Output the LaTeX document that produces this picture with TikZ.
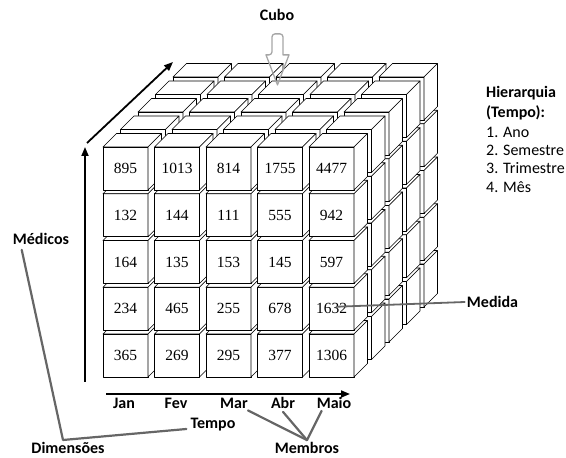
\documentclass[tikz,border=0pt]{standalone}
\usepackage{fontspec}
\setmainfont{Liberation Serif}
\newfontfamily\calib{Carlito}
\usetikzlibrary{arrows.meta}
\begin{document}
\begin{tikzpicture}[x=1pt,y=1pt,
  face/.style={draw=black,fill=white,line width=0.7pt,line join=round},
  cellnum/.style={font=\fontsize{15.5}{17}\selectfont,inner sep=0pt},
  lbl/.style={font=\calib\bfseries\fontsize{16}{19}\selectfont,inner sep=1pt},
  hier/.style={font=\calib\fontsize{16}{19}\selectfont,inner sep=0pt,anchor=west},
  hierhead/.style={hier,font=\calib\bfseries\fontsize{16}{19}\selectfont},
  axis/.style={line width=1.8pt,-{Triangle[length=9pt,width=7pt]}},
  pointer/.style={draw=black!60,line width=2.2pt,line cap=round,line join=round}]
\useasboundingbox (0,0) rectangle (566,458);

% small cubes, painted from the back layer forward, left to right, bottom to top
\foreach \k in {4,3,2,1,0}{
  \foreach \i in {0,...,4}{
    \foreach \j in {0,...,4}{
      \pgfmathsetmacro\ox{103+51.5*\i+17.5*\k}
      \pgfmathsetmacro\oy{81+46.75*\j+17.5*\k}
      \draw[face] (\ox,\oy) rectangle ++(45,43);
      \draw[face] (\ox,\oy+43) -- ++(13.5,13.5) -- ++(45,0) -- ++(-13.5,-13.5) -- cycle;
      \draw[face] (\ox+45,\oy) -- ++(13.5,13.5) -- ++(0,43) -- ++(-13.5,-13.5) -- cycle;
    }}}

% measures on the front layer (rows listed bottom to top)
\foreach \row [count=\j from 0] in {{365,269,295,377,1306},{234,465,255,678,1632},{164,135,153,145,597},{132,144,111,555,942},{895,1013,814,1755,4477}}{
  \foreach \v [count=\i from 0] in \row {
    \node[cellnum] (n\i\j) at (125.5+51.5*\i,102.5+46.75*\j) {\v};
  }}

% dimension axes
\coordinate (vb) at (85,76);  \coordinate (vt) at (85,311);
\coordinate (db) at (87,315); \coordinate (dt) at (173,396);
\coordinate (hb) at (106,64); \coordinate (ht) at (350,64);
\draw[axis] (vb) -- (vt);
\draw[axis] (db) -- (dt);
\draw[axis] (hb) -- (ht);

% members of the time dimension
\node[lbl] (jan)  at (124,55) {Jan};
\node[lbl] (fev)  at (176,55) {Fev};
\node[lbl] (mar)  at (234,55) {Mar};
\node[lbl] (abr)  at (283,55) {Abr};
\node[lbl] (maio) at (334,55) {Maio};

% labels
\node[lbl] (cubo)      at (277,443)   {Cubo};
\node[lbl] (medicos)   at (41,219)    {Médicos};
\node[lbl] (tempo)     at (213,33)    {Tempo};
\node[lbl] (dimensoes) at (68,10.5)   {Dimensões};
\node[lbl] (membros)   at (307,10)    {Membros};
\node[lbl] (medida)    at (492.5,156) {Medida};

% hierarchy of the time dimension
\node[hierhead] (h1) at (486,365) {Hierarquia};
\node[hierhead] (h2) at (486,345) {(Tempo):};
\node[hier] (h3) at (486,326) {1. Ano};
\node[hier] (h4) at (486,308) {2. Semestre};
\node[hier] (h5) at (486,290) {3. Trimestre};
\node[hier] (h6) at (486,271) {4. Mês};

% hollow arrow pointing at the cube
\draw[draw=gray!70,line width=1.3pt,line join=round]
  ([shift={(-5,-12)}]cubo.south) [rounded corners=3pt] -- ++(0,-21)
  [sharp corners] -- ++(-6,0) -- ++(11.5,-30) -- ++(11.5,30) -- ++(-6,0)
  [rounded corners=3pt] -- ++(0,21) -- cycle;

% pointer lines
\coordinate (dimcorner) at (63,18);
\draw[pointer] ([shift={(10,-4)}]medicos.south west) -- (dimcorner) -- ([shift={(-3,-4)}]tempo.west);
\draw[pointer] ([shift={(-1,-1)}]mar.south east) -- ([yshift=1pt]membros.north);
\draw[pointer] ([yshift=-2pt]abr.south) -- ([yshift=1pt]membros.north);
\draw[pointer] ([shift={(6,-1)}]maio.south west) -- ([yshift=1pt]membros.north);
\draw[pointer,line width=1.8pt] ([shift={(5,2)}]n41.center) -- ([xshift=-1pt]medida.west);
\end{tikzpicture}
\end{document}
